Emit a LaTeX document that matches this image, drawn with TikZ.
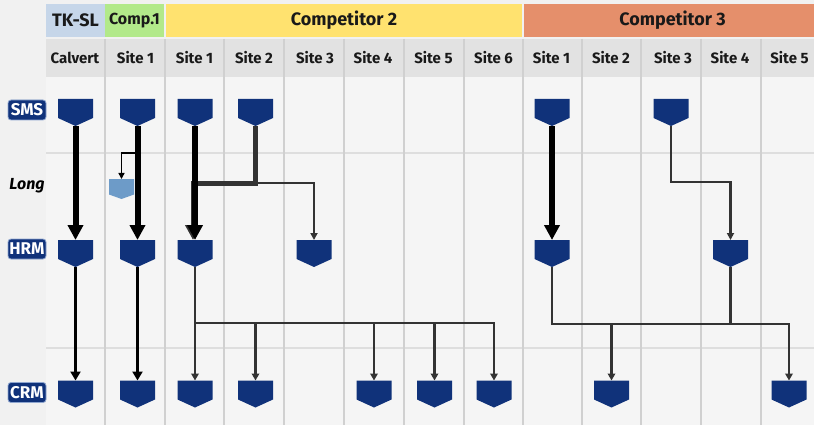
\documentclass[tikz,border=0pt]{standalone}
\usepackage{fontspec}
\setmainfont{Fira Sans}
\usetikzlibrary{arrows.meta}
\definecolor{unitblue}{HTML}{10327A}
\definecolor{longblue}{HTML}{6D9BC8}
\definecolor{tkblue}{HTML}{C6D6E9}
\definecolor{compgreen}{HTML}{B2E98A}
\definecolor{compyellow}{HTML}{FFE26F}
\definecolor{compsalmon}{HTML}{E58F6B}
\definecolor{bandgray}{HTML}{E2E2E2}
\definecolor{gridgray}{HTML}{D0D0D0}
\definecolor{rowgray}{HTML}{DEDEDE}
\definecolor{linegray}{HTML}{333333}
\definecolor{badgeedge}{HTML}{8FA6CF}
\begin{document}
\begin{tikzpicture}[x=1pt,y=-1pt,
  pointed/.style 2 args={rectangle, inner sep=0pt, outer sep=0pt,
    path picture={\fill[#1] (path picture bounding box.north west) -- (path picture bounding box.north east)
      -- ([yshift=#2]path picture bounding box.south east) -- (path picture bounding box.south)
      -- ([yshift=#2]path picture bounding box.south west) -- cycle;}},
  unit/.style={pointed={unitblue}{8pt}, minimum width=35pt, minimum height=27pt},
  longunit/.style={pointed={longblue}{4.5pt}, minimum width=25pt, minimum height=20pt},
  band/.style={inner sep=0pt, minimum height=33pt, text=black!90},
  colhead/.style={font=\bfseries\fontsize{15}{15}\selectfont, text=black!90},
  badge/.style={fill=unitblue, draw=badgeedge, line width=0.8pt, rounded corners=3pt, text=white,
    inner sep=0pt, minimum width=38pt, minimum height=20pt, font=\bfseries\fontsize{17}{17}\selectfont},
  big/.style={line width=6pt, -{Triangle[width=15pt,length=15pt]}},
  mid/.style={line width=3.5pt, -{Triangle[width=10pt,length=9pt]}},
  thin/.style={line width=1.6pt, -{Triangle[width=6pt,length=6pt]}},
  fatgray/.style={draw=linegray, line width=5pt, -{Triangle[width=15pt,length=15pt]}},
  thingray/.style={draw=linegray, line width=2.2pt, -{Triangle[width=7pt,length=7pt]}},
  tree/.style={draw=linegray, line width=2.8pt, -{Triangle[width=7.5pt,length=7pt]}},
  treeline/.style={draw=linegray, line width=2.8pt}]
\useasboundingbox (0,0) rectangle (814,425);
\clip (0,0) rectangle (814,425);
% background
\fill[black!5.5] (0,0) rectangle (814,425);
\fill[black!4] (46,77) rectangle (814,425);
\fill[bandgray] (46,39) rectangle (814,77);
% group headers
\node[band, fill=tkblue, minimum width=59pt, font=\bfseries\fontsize{18}{18}\selectfont] (tk) at (75.5,20.5) {TK-SL};
\node[band, fill=compgreen, minimum width=59pt, font=\bfseries\fontsize{16}{16}\selectfont] (comp1) at (134.5,20.5) {Comp.1};
\node[band, fill=compyellow, minimum width=356pt, font=\bfseries\fontsize{18}{18}\selectfont] (comp2) at (344,20.5) {Competitor 2};
\node[band, fill=compsalmon, minimum width=297pt, font=\bfseries\fontsize{18}{18}\selectfont] (comp3) at (672.5,20.5) {Competitor 3};
% grid
\draw[rowgray, line width=2pt] (46,153) -- (814,153) (46,348) -- (814,348);
\draw[gridgray, line width=1.6pt] (105,39) -- (105,425) (165,39) -- (165,425) (224,39) -- (224,425)
  (284,39) -- (284,425) (344,39) -- (344,425) (404,39) -- (404,425) (464,39) -- (464,425)
  (523,39) -- (523,425) (582,39) -- (582,425) (641,39) -- (641,425) (701,39) -- (701,425)
  (761,39) -- (761,425);
% site names
\node[colhead] (nCal) at (75,58) {Calvert};
\node[colhead] (nC1) at (135.5,58) {Site 1};
\node[colhead] (nA1) at (194.5,58) {Site 1};
\node[colhead] (nA2) at (254,58) {Site 2};
\node[colhead] (nA3) at (315,58) {Site 3};
\node[colhead] (nA4) at (373,58) {Site 4};
\node[colhead] (nA5) at (433.5,58) {Site 5};
\node[colhead] (nA6) at (493.5,58) {Site 6};
\node[colhead] (nB1) at (551.5,58) {Site 1};
\node[colhead] (nB2) at (611,58) {Site 2};
\node[colhead] (nB3) at (673,58) {Site 3};
\node[colhead] (nB4) at (730,58) {Site 4};
\node[colhead] (nB5) at (789.5,58) {Site 5};
% row labels
\node[badge] (sms) at (27,110) {SMS};
\node[font=\bfseries\itshape\fontsize{16}{16}\selectfont] (long) at (27,186) {Long};
\node[badge] (hrm) at (27,249) {HRM};
\node[badge] (crm) at (27,392.5) {CRM};
% SMS row
\node[unit] (sCal) at (75.5,112.5) {};
\node[unit] (sC1) at (137.5,112.5) {};
\node[unit] (sA1) at (195,112.5) {};
\node[unit] (sA2) at (255.5,112.5) {};
\node[unit] (sB1) at (552,112.5) {};
\node[unit] (sB3) at (671,112.5) {};
% long
\node[longunit] (lC1) at (121.5,189) {};
% HRM row
\node[unit] (hCal) at (75.5,253.5) {};
\node[unit] (hC1) at (137.5,253.5) {};
\node[unit] (hA1) at (195,253.5) {};
\node[unit] (hA3) at (314,253.5) {};
\node[unit] (hB1) at (552,253.5) {};
\node[unit] (hB4) at (730.5,253.5) {};
% CRM row
\node[unit] (cCal) at (75.5,394) {};
\node[unit] (cC1) at (137.5,394) {};
\node[unit] (cA1) at (195,394) {};
\node[unit] (cA2) at (255.5,394) {};
\node[unit] (cA4) at (374,394) {};
\node[unit] (cA5) at (434.5,394) {};
\node[unit] (cA6) at (494,394) {};
\node[unit] (cB2) at (611.5,394) {};
\node[unit] (cB5) at (789,394) {};
% TK-SL and Comp.1
\draw[big] (sCal) -- (hCal);
\draw[mid] (hCal) -- (cCal);
\draw[thin] (sC1.south) -- ++(0,27) -| (lC1.north);
\draw[big] (sC1) -- (hC1);
\draw[mid] (hC1) -- (cC1);
% Competitor 2
\draw[fatgray] (sA2.south) -- ++(0,57) -| ([xshift=-2pt]hA1.north);
\draw[thingray] (sA2.south) -- ++(0,57) -| (hA3.north);
\draw[big] (sA1) -- (hA1);
\draw[tree] (hA1) -- (cA1);
\draw[tree] (hA1.south) -- ++(0,56) -| (cA2.north);
\draw[tree] (hA1.south) -- ++(0,56) -| (cA4.north);
\draw[tree] (hA1.south) -- ++(0,56) -| (cA5.north);
\draw[tree] (hA1.south) -- ++(0,56) -| (cA6.north);
% Competitor 3
\draw[big] (sB1) -- (hB1);
\draw[thingray] (sB3.south) -- ++(0,56) -| (hB4.north);
\draw[tree] (hB1.south) -- ++(0,57) -| (cB2.north);
\draw[tree] (hB1.south) -- ++(0,57) -| (cB5.north);
\draw[treeline] (hB4.south) -- ++(0,57);
\end{tikzpicture}
\end{document}
